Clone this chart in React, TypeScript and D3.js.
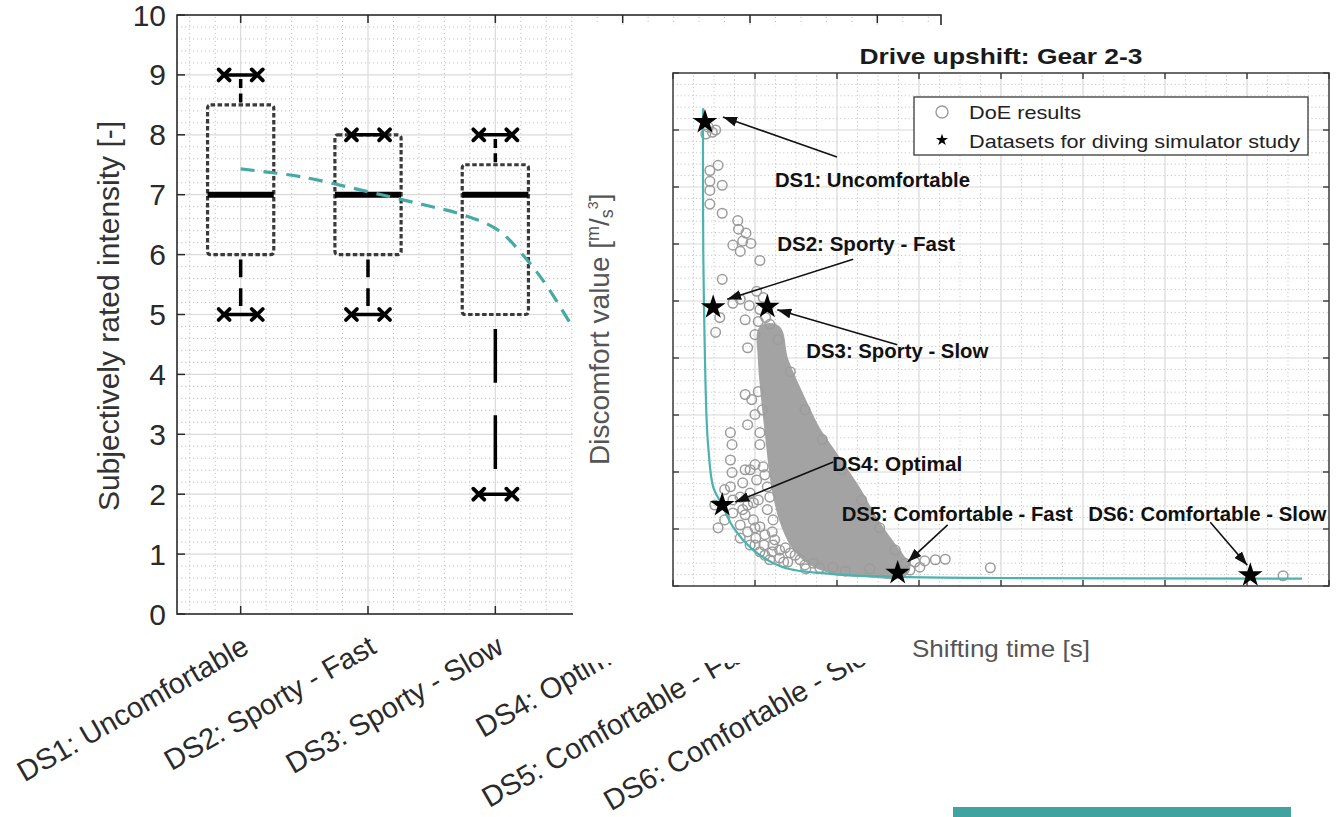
import React from "react";
import * as d3 from "d3";

const FONT = "'Liberation Sans', Arial, Helvetica, sans-serif";

// ---------- Left chart: subjective ratings (box plots) ----------
const categories = [
  "DS1: Uncomfortable",
  "DS2: Sporty - Fast",
  "DS3: Sporty - Slow",
  "DS4: Optimal",
  "DS5: Comfortable - Fast",
  "DS6: Comfortable - Slow",
];
const intensityTicks = [0, 1, 2, 3, 4, 5, 6, 7, 8, 9, 10];
const boxLowWhisker = [5, 5, 2];
const boxQ1 = [6, 6, 5];
const boxMedian = [7, 7, 7];
const boxQ3 = [8.5, 8, 7.5];
const boxHighWhisker = [9, 8, 8];
// teal dashed trend (category position, value)
const trendPos = [1.0, 1.47, 2.0, 2.42, 2.75, 3.02, 3.25, 3.41, 3.61, 3.66];
const trendVal = [7.43, 7.3, 7.05, 6.84, 6.66, 6.41, 5.91, 5.46, 4.79, 4.66];

// ---------- Right chart: Drive upshift Gear 2-3 ----------
const shiftTicks = [0, 1, 2, 3, 4, 5, 6, 7, 8];
const discomfortTicks = [0, 1, 2, 3, 4, 5, 6, 7, 8, 9];
const doeResults: [number, number][] = [
  [0.43, 8.05], [0.48, 7.96], [0.4, 7.93], [0.52, 8.0], [0.55, 7.38], [0.45, 7.29],
  [0.6, 7.03], [0.45, 7.1], [0.45, 6.94], [0.45, 6.7], [0.6, 6.54], [0.79, 6.41],
  [0.8, 6.26], [0.89, 6.19], [0.85, 6.05], [0.95, 6.01], [0.73, 5.98], [0.82, 5.87],
  [1.06, 5.71], [0.6, 5.38], [0.73, 4.96], [0.93, 4.92], [0.57, 4.71], [0.52, 4.45],
  [0.82, 5.03], [0.88, 4.67], [0.91, 4.18], [1.02, 5.17], [1.1, 5.06], [1.06, 4.85],
  [1.13, 4.71], [1.18, 4.59], [1.04, 4.64], [1.16, 4.89], [1.0, 4.41], [1.28, 4.32],
  [0.88, 3.36], [0.96, 3.27], [1.04, 3.41], [1.09, 3.09], [0.7, 2.69], [0.72, 2.48],
  [0.7, 2.21], [0.72, 1.99], [0.7, 1.74], [1.06, 2.69], [1.06, 2.48], [0.94, 2.04],
  [0.85, 1.81], [1.02, 1.86], [1.1, 2.09], [0.82, 1.56], [0.94, 1.63], [1.15, 1.74],
  [0.63, 1.16], [0.73, 1.28], [0.85, 1.34], [0.98, 1.16], [1.15, 1.34], [1.06, 1.04],
  [1.21, 0.95], [1.22, 0.72], [1.3, 0.63], [1.43, 0.58], [1.55, 0.46], [1.71, 0.4],
  [1.95, 0.33], [0.98, 1.46], [1.22, 1.16], [0.73, 1.51], [1.18, 1.56], [0.51, 1.42],
  [0.63, 1.69], [0.55, 1.02], [0.82, 0.84], [1.0, 0.72], [1.12, 0.54],
  [0.82, 1.07], [0.91, 0.95], [1.01, 0.84], [1.11, 0.72], [1.21, 0.6], [1.3, 0.49],
  [1.4, 0.42], [0.94, 0.72], [1.06, 0.6], [1.18, 0.46], [0.88, 1.25], [1.0, 1.02],
  [1.12, 0.9], [1.24, 0.81], [1.37, 0.67], [1.49, 0.54], [1.61, 0.37], [1.79, 0.32],
  [0.88, 2.04], [1.0, 2.13], [1.12, 1.95], [0.91, 1.42], [1.04, 1.51], [1.0, 3.01],
  [0.91, 2.83],
  [1.43, 3.76], [1.61, 3.09], [1.82, 2.57], [2.06, 2.04], [2.3, 1.51], [2.52, 1.02],
  [2.71, 0.63], [1.35, 0.42], [1.62, 0.3], [2.1, 0.26], [2.4, 0.3],
  [2.83, 0.4], [2.95, 0.42], [3.07, 0.44], [3.2, 0.46], [3.32, 0.47], [3.01, 0.33],
  [2.89, 0.28], [3.87, 0.32], [7.44, 0.18],
];
// outline of the densely overlapping DoE cloud
const denseCloud: [number, number][] = [
  [1.1, 4.5], [1.09, 3.97], [1.13, 3.27], [1.17, 2.74], [1.21, 2.21], [1.26, 1.69],
  [1.35, 1.16], [1.49, 0.72], [1.67, 0.46], [1.98, 0.28], [2.4, 0.23], [2.77, 0.21],
  [2.84, 0.32], [2.77, 0.49], [2.65, 0.72], [2.44, 1.16], [2.23, 1.69], [1.99, 2.21],
  [1.74, 2.74], [1.56, 3.27], [1.35, 3.97], [1.26, 4.5],
];
const paretoX = [0.366, 0.366, 0.37, 0.39, 0.41, 0.43, 0.49, 0.6, 0.73, 0.98, 1.34, 1.95, 2.77, 3.99, 7.67];
const paretoY = [8.38, 7.0, 5.73, 3.97, 2.92, 2.44, 1.74, 1.42, 1.04, 0.63, 0.33, 0.21, 0.16, 0.14, 0.13];
const datasetNames = [
  "DS1: Uncomfortable",
  "DS2: Sporty - Fast",
  "DS3: Sporty - Slow",
  "DS4: Optimal",
  "DS5: Comfortable - Fast",
  "DS6: Comfortable - Slow",
];
const datasetShiftTime = [0.39, 0.49, 1.15, 0.6, 2.74, 7.04];
const datasetDiscomfort = [8.14, 4.89, 4.9, 1.42, 0.23, 0.19];
// annotation layout relative to each star (pixels)
const annotations = [
  { tx: 70, ty: 65, len: 195, tip: [18, -5], tail: [132, 35] },
  { tx: 64, ty: -56, len: 178, tip: [14, -8], tail: [140, -48] },
  { tx: 39, ty: 51, len: 182, tip: [10, 3], tail: [130, 38] },
  { tx: 110, ty: -34, len: 130, tip: [13, -3], tail: [111, -43] },
  { tx: -56, ty: -52, len: 231, tip: [10, -11], tail: [50, -48] },
  { tx: -162, ty: -54, len: 238, tip: [-3, -10], tail: [-40, -53] },
];

export default function App() {
  // left chart scales
  const xL = d3.scaleLinear().domain([0.5, 6.5]).range([177, 941]);
  const yL = d3.scaleLinear().domain([0, 10]).range([614, 15]);
  // right chart scales
  const xS = d3.scaleLinear().domain([0, 8]).range([673, 1329]);
  const yS = d3.scaleLinear().domain([0, 9]).range([586, 73]);

  const minorXL = d3.range(3, 33).filter((k) => k % 5 !== 0).map((k) => k * 0.2);
  const minorYL = d3.range(1, 50).filter((k) => k % 5 !== 0).map((k) => k * 0.2);
  const minorXS = d3.range(1, 32).filter((k) => k % 4 !== 0).map((k) => k * 0.25);
  const minorYS = d3.range(1, 45).filter((k) => k % 5 !== 0).map((k) => k * 0.2);

  const trendPath = d3
    .line<number>()
    .x((_, i) => xL(trendPos[i]))
    .y((_, i) => yL(trendVal[i]))
    .curve(d3.curveCatmullRom.alpha(0.5))(trendPos) as string;

  const paretoPath = d3
    .line<number>()
    .x((_, i) => xS(paretoX[i]))
    .y((_, i) => yS(paretoY[i]))
    .curve(d3.curveCatmullRom.alpha(0.5))(paretoX) as string;

  const cloudPath = d3
    .line<[number, number]>()
    .x((d) => xS(d[0]))
    .y((d) => yS(d[1]))
    .curve(d3.curveCatmullRomClosed.alpha(0.5))(denseCloud) as string;

  const bigStar = d3.symbol(d3.symbolStar, 190)() as string;
  const smallStar = d3.symbol(d3.symbolStar, 45)() as string;

  const boxHalf = 0.26;
  const capHalf = 0.13;

  const whisker = (cx: number, from: number, to: number, key: string) => {
    const y0 = yL(from);
    const y1 = yL(to);
    const len = Math.abs(y1 - y0);
    if (len < 1) return null;
    const a = 0.3 * len;
    const g = 0.18 * len;
    return (
      <line
        key={key}
        x1={cx}
        x2={cx}
        y1={y0}
        y2={y1}
        stroke="#000"
        strokeWidth={3.5}
        strokeDasharray={`${a} ${g}`}
        strokeDashoffset={a + g - 0.08 * len}
      />
    );
  };

  const cross = (x: number, y: number, key: string) => (
    <g key={key} stroke="#000" strokeWidth={3.8} strokeLinecap="round">
      <line x1={x - 5.5} y1={y - 5.5} x2={x + 5.5} y2={y + 5.5} />
      <line x1={x - 5.5} y1={y + 5.5} x2={x + 5.5} y2={y - 5.5} />
    </g>
  );

  return (
    <svg
      width={1344}
      height={817}
      style={{ position: "absolute", left: 0, top: 0, background: "#fff" }}
      fontFamily={FONT}
    >
      <defs>
        <marker
          id="arrowHead"
          viewBox="0 0 14 10"
          refX={14}
          refY={5}
          markerWidth={14}
          markerHeight={10}
          markerUnits="userSpaceOnUse"
          orient="auto"
        >
          <path d="M0,0 L14,5 L0,10 z" fill="#111" />
        </marker>
      </defs>
      <rect x={0} y={0} width={1344} height={817} fill="#fff" />

      {/* ================= LEFT CHART ================= */}
      <g>
        {minorYL.map((v) => (
          <line key={"myl" + v} x1={xL(0.5)} x2={xL(6.5)} y1={yL(v)} y2={yL(v)}
            stroke="#c4c4c4" strokeWidth={1} strokeDasharray="1.2 2.8" />
        ))}
        {minorXL.map((v) => (
          <line key={"mxl" + v} x1={xL(v)} x2={xL(v)} y1={yL(0)} y2={yL(10)}
            stroke="#c4c4c4" strokeWidth={1} strokeDasharray="1.2 2.8" />
        ))}
        {intensityTicks.slice(1, -1).map((v) => (
          <line key={"gyl" + v} x1={xL(0.5)} x2={xL(6.5)} y1={yL(v)} y2={yL(v)}
            stroke="#dadada" strokeWidth={1.2} />
        ))}
        {categories.map((c, i) => (
          <line key={"gxl" + c} x1={xL(i + 1)} x2={xL(i + 1)} y1={yL(0)} y2={yL(10)}
            stroke="#dadada" strokeWidth={1.2} />
        ))}

        {/* frame */}
        <rect x={xL(0.5)} y={yL(10)} width={xL(6.5) - xL(0.5)} height={yL(0) - yL(10)}
          fill="none" stroke="#2a2a2a" strokeWidth={1.6} />
        {intensityTicks.map((v) => (
          <line key={"tyl" + v} x1={xL(0.5)} x2={xL(0.5) + 8} y1={yL(v)} y2={yL(v)}
            stroke="#2a2a2a" strokeWidth={1.5} />
        ))}
        {categories.map((c, i) => (
          <g key={"txl" + c} stroke="#2a2a2a" strokeWidth={1.5}>
            <line x1={xL(i + 1)} x2={xL(i + 1)} y1={yL(0)} y2={yL(0) - 8} />
            <line x1={xL(i + 1)} x2={xL(i + 1)} y1={yL(10)} y2={yL(10) + 8} />
          </g>
        ))}

        {/* boxes */}
        {boxQ1.map((q1, i) => {
          const cx = xL(i + 1);
          const bx0 = xL(i + 1 - boxHalf);
          const bx1 = xL(i + 1 + boxHalf);
          const cx0 = xL(i + 1 - capHalf);
          const cx1 = xL(i + 1 + capHalf);
          return (
            <g key={"box" + i}>
              {whisker(cx, boxQ3[i], boxHighWhisker[i], "wh" + i)}
              {whisker(cx, q1, boxLowWhisker[i], "wl" + i)}
              <rect x={bx0} y={yL(boxQ3[i])} width={bx1 - bx0} height={yL(q1) - yL(boxQ3[i])}
                rx={3} fill="none" stroke="#3a3a3a" strokeWidth={3.2} strokeDasharray="4.5 2.5" />
              <line x1={bx0} x2={bx1} y1={yL(boxMedian[i])} y2={yL(boxMedian[i])}
                stroke="#000" strokeWidth={6} />
              <line x1={cx0} x2={cx1} y1={yL(boxHighWhisker[i])} y2={yL(boxHighWhisker[i])}
                stroke="#000" strokeWidth={3.5} />
              <line x1={cx0} x2={cx1} y1={yL(boxLowWhisker[i])} y2={yL(boxLowWhisker[i])}
                stroke="#000" strokeWidth={3.5} />
              {cross(cx0, yL(boxHighWhisker[i]), "c1" + i)}
              {cross(cx1, yL(boxHighWhisker[i]), "c2" + i)}
              {cross(cx0, yL(boxLowWhisker[i]), "c3" + i)}
              {cross(cx1, yL(boxLowWhisker[i]), "c4" + i)}
            </g>
          );
        })}

        <path d={trendPath} fill="none" stroke="#45aaa6" strokeWidth={3.2} strokeDasharray="14 9" />

        {/* tick labels */}
        {intensityTicks.map((v) => (
          <text key={"lyl" + v} x={166} y={yL(v)} textAnchor="end" dominantBaseline="central"
            fontSize={30} fill="#2a2a2a">{v}</text>
        ))}
        {categories.map((c, i) => (
          <text key={"lxl" + c} transform={`translate(${xL(i + 1) + 10},${652}) rotate(-30)`}
            textAnchor="end" fontSize={29} fill="#2a2a2a">{c}</text>
        ))}
        <text transform="translate(119,316) rotate(-90)" textAnchor="middle" fontSize={30} fill="#333">
          Subjectively rated intensity [-]
        </text>
      </g>

      {/* ================= OVERLAY PANEL ================= */}
      <rect x={573} y={25} width={771} height={638} fill="#fff" />

      {/* ================= RIGHT CHART ================= */}
      <g>
        <text x={1001} y={64} textAnchor="middle" fontSize={22} fontWeight="bold" fill="#1a1a1a"
          textLength={283} lengthAdjust="spacingAndGlyphs">Drive upshift: Gear 2-3</text>

        {minorYS.map((v) => (
          <line key={"mys" + v} x1={xS(0)} x2={xS(8)} y1={yS(v)} y2={yS(v)}
            stroke="#c8c8c8" strokeWidth={1} strokeDasharray="1.2 2.6" />
        ))}
        {minorXS.map((v) => (
          <line key={"mxs" + v} x1={xS(v)} x2={xS(v)} y1={yS(0)} y2={yS(9)}
            stroke="#c8c8c8" strokeWidth={1} strokeDasharray="1.2 2.6" />
        ))}
        {discomfortTicks.slice(1, -1).map((v) => (
          <line key={"gys" + v} x1={xS(0)} x2={xS(8)} y1={yS(v)} y2={yS(v)}
            stroke="#d8d8d8" strokeWidth={1.2} />
        ))}
        {shiftTicks.slice(1, -1).map((v) => (
          <line key={"gxs" + v} x1={xS(v)} x2={xS(v)} y1={yS(0)} y2={yS(9)}
            stroke="#d8d8d8" strokeWidth={1.2} />
        ))}

        <rect x={xS(0)} y={yS(9)} width={xS(8) - xS(0)} height={yS(0) - yS(9)}
          fill="none" stroke="#3a3a3a" strokeWidth={1.5} />
        {discomfortTicks.map((v) => (
          <g key={"tys" + v} stroke="#3a3a3a" strokeWidth={1.4}>
            <line x1={xS(0)} x2={xS(0) + 6} y1={yS(v)} y2={yS(v)} />
            <line x1={xS(8)} x2={xS(8) - 6} y1={yS(v)} y2={yS(v)} />
          </g>
        ))}
        {shiftTicks.map((v) => (
          <g key={"txs" + v} stroke="#3a3a3a" strokeWidth={1.4}>
            <line x1={xS(v)} x2={xS(v)} y1={yS(0)} y2={yS(0) - 6} />
            <line x1={xS(v)} x2={xS(v)} y1={yS(9)} y2={yS(9) + 6} />
          </g>
        ))}

        {/* DoE cloud */}
        <path d={cloudPath} fill="#a3a3a3" stroke="#a3a3a3" strokeWidth={9} strokeLinejoin="round" />
        {doeResults.map((d, i) => (
          <circle key={"doe" + i} cx={xS(d[0])} cy={yS(d[1])} r={4.8} fill="none"
            stroke="#9c9c9c" strokeWidth={1.5} />
        ))}

        <path d={paretoPath} fill="none" stroke="#4bb3ae" strokeWidth={2.2} />

        {datasetShiftTime.map((x, i) => (
          <path key={"star" + i} d={bigStar} transform={`translate(${xS(x)},${yS(datasetDiscomfort[i])})`}
            fill="#000" />
        ))}

        {/* annotations */}
        {annotations.map((a, i) => {
          const sx = xS(datasetShiftTime[i]);
          const sy = yS(datasetDiscomfort[i]);
          return (
            <g key={"ann" + i}>
              <line x1={sx + a.tail[0]} y1={sy + a.tail[1]} x2={sx + a.tip[0]} y2={sy + a.tip[1]}
                stroke="#111" strokeWidth={1.6} markerEnd="url(#arrowHead)" />
              <text x={sx + a.tx} y={sy + a.ty} fontSize={20} fontWeight="bold" fill="#111"
                textLength={a.len} lengthAdjust="spacingAndGlyphs">{datasetNames[i]}</text>
            </g>
          );
        })}

        {/* legend */}
        <rect x={914} y={97} width={394} height={58} fill="#fff" stroke="#3a3a3a" strokeWidth={1.3} />
        <circle cx={942} cy={112} r={6} fill="none" stroke="#9c9c9c" strokeWidth={1.4} />
        <path d={smallStar} transform="translate(942,140)" fill="#000" />
        <text x={969} y={119} fontSize={19} fill="#222" textLength={112} lengthAdjust="spacingAndGlyphs">DoE results</text>
        <text x={969} y={148} fontSize={19} fill="#222" textLength={331} lengthAdjust="spacingAndGlyphs">
          Datasets for diving simulator study
        </text>

        {/* axis labels */}
        <text x={1001} y={657} textAnchor="middle" fontSize={24} fill="#555"
          textLength={178} lengthAdjust="spacingAndGlyphs">Shifting time [s]</text>
        <text transform="translate(609,465) rotate(-90)" fontSize={28} fill="#555">
          Discomfort value [<tspan fontSize={18} dy={-10}>m</tspan>
          <tspan dy={10}>/</tspan>
          <tspan fontSize={18} dy={4}>s</tspan>
          <tspan fontSize={14} dy={-15}>3</tspan>
          <tspan dy={11}>]</tspan>
        </text>
      </g>

      {/* decorative teal bar */}
      <rect x={953} y={807} width={338} height={10} fill="#40a3a0" />
    </svg>
  );
}
